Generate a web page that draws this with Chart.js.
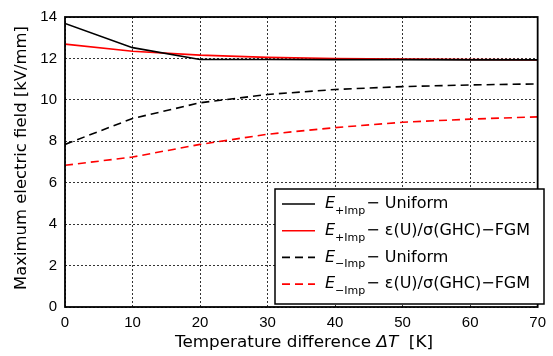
<!DOCTYPE html>
<html>
<head>
<meta charset="utf-8">
<script src="https://cdn.jsdelivr.net/npm/chart.js@4"></script>
<style>
  html, body { margin: 0; padding: 0; background: #fff; }
  #wrap { width: 553px; height: 356px; }
</style>
</head>
<body>
<div id="wrap"><canvas id="chart" width="553" height="356"></canvas></div>
<script>
const deltaT = [0, 10, 20, 30, 40, 50, 60, 70];
const plusUniform = [13.69, 12.52, 11.95, 11.95, 11.94, 11.94, 11.93, 11.93];
const plusFGM = [12.69, 12.35, 12.16, 12.05, 12.0, 11.97, 11.95, 11.93];
const minusUniform = [7.85, 9.1, 9.86, 10.26, 10.5, 10.64, 10.72, 10.77];
const minusFGM = [6.84, 7.24, 7.85, 8.34, 8.66, 8.92, 9.07, 9.18];

const seriesNames = [
  { sub: "+Imp", rest: "\u2212 Uniform" },
  { sub: "+Imp", rest: "\u2212 \u03b5(U)/\u03c3(GHC)\u2212FGM" },
  { sub: "\u2212Imp", rest: "\u2212 Uniform" },
  { sub: "\u2212Imp", rest: "\u2212 \u03b5(U)/\u03c3(GHC)\u2212FGM" }
];

const FONT = "'DejaVu Sans', 'Liberation Sans', sans-serif";
const TICKFONT = "'Liberation Sans', Arial, sans-serif";

function pts(ys) {
  return deltaT.map((x, i) => ({ x: x, y: ys[i] }));
}

function makeSet(ys, color, dashed) {
  return {
    data: pts(ys),
    borderColor: color,
    borderWidth: 1.6,
    borderDash: dashed ? [8, 5] : [],
    pointRadius: 0,
    fill: false,
    tension: 0
  };
}

// draws a sequence of [text, italic] pieces, scaled horizontally to a given width
function drawPieces(ctx, pieces, size, cx, cy, targetW) {
  let w = 0;
  pieces.forEach(p => {
    ctx.font = (p[1] ? "italic " : "") + size + "px " + FONT;
    w += ctx.measureText(p[0]).width;
  });
  const sx = targetW / w;
  ctx.save();
  ctx.translate(cx, cy);
  ctx.scale(sx, 1);
  let x = -w / 2;
  ctx.textAlign = "left";
  ctx.textBaseline = "middle";
  pieces.forEach(p => {
    ctx.font = (p[1] ? "italic " : "") + size + "px " + FONT;
    ctx.fillText(p[0], x, 0);
    x += ctx.measureText(p[0]).width;
  });
  ctx.restore();
}

// frame, axis titles and the legend box
const extras = {
  id: "extras",
  afterDraw(chart) {
    const ctx = chart.ctx;
    const a = chart.chartArea;
    ctx.save();
    ctx.strokeStyle = "#000";
    ctx.lineWidth = 1.8;
    ctx.strokeRect(a.left, a.top, a.right - a.left, a.bottom - a.top);

    ctx.fillStyle = "#000";
    // y title
    ctx.save();
    ctx.translate(22, 158);
    ctx.rotate(-Math.PI / 2);
    drawPieces(ctx, [["Maximum electric field [kV/mm]", false]], 16, 0, 0, 264);
    ctx.restore();

    // x title with italic ΔT
    drawPieces(ctx, [["Temperature difference ", false], ["\u0394T", true], ["  [K]", false]], 16, 304, 343, 258);

    // legend
    const lx = 275, ly = 189, lw = 269, lh = 115;
    ctx.fillStyle = "#fff";
    ctx.fillRect(lx, ly, lw, lh);
    ctx.strokeStyle = "#000";
    ctx.lineWidth = 1.5;
    ctx.strokeRect(lx, ly, lw, lh);
    chart.data.datasets.forEach((ds, i) => {
      const ry = 204 + i * 26.7;
      ctx.strokeStyle = ds.borderColor;
      ctx.lineWidth = 1.6;
      ctx.setLineDash(ds.borderDash);
      ctx.beginPath();
      ctx.moveTo(282, ry);
      ctx.lineTo(315, ry);
      ctx.stroke();
      ctx.setLineDash([]);
      ctx.fillStyle = "#000";
      ctx.textBaseline = "middle";
      ctx.textAlign = "left";
      let tx = 325;
      ctx.font = "italic 16px " + FONT;
      ctx.fillText("E", tx, ry);
      tx += ctx.measureText("E").width;
      ctx.font = "11px " + FONT;
      ctx.fillText(seriesNames[i].sub, tx, ry + 7);
      tx += ctx.measureText(seriesNames[i].sub).width + 1;
      ctx.font = "16px " + FONT;
      ctx.fillText(seriesNames[i].rest, tx, ry);
    });
    ctx.restore();
  }
};

new Chart(document.getElementById("chart"), {
  type: "line",
  data: {
    datasets: [
      makeSet(plusUniform, "#000000", false),
      makeSet(plusFGM, "#ff0000", false),
      makeSet(minusUniform, "#000000", true),
      makeSet(minusFGM, "#ff0000", true)
    ]
  },
  options: {
    responsive: false,
    animation: false,
    layout: { padding: { top: 15, right: 7, left: 0, bottom: 0 } },
    plugins: { legend: { display: false }, tooltip: { enabled: false } },
    scales: {
      x: {
        type: "linear",
        min: 0,
        max: 70,
        afterFit(s) { s.height = 49; },
        ticks: { stepSize: 10, color: "#000", padding: 7, maxRotation: 0, font: { family: TICKFONT, size: 15 } },
        grid: { color: "#333", lineWidth: 1, drawTicks: false },
        border: { display: false, dash: [2, 2] }
      },
      y: {
        min: 0,
        max: 14,
        afterFit(s) { s.width = 65; },
        ticks: { stepSize: 2, color: "#000", padding: 8, font: { family: TICKFONT, size: 15 } },
        grid: { color: "#333", lineWidth: 1, drawTicks: false },
        border: { display: false, dash: [2, 2] }
      }
    }
  },
  plugins: [extras]
});
</script>
</body>
</html>
